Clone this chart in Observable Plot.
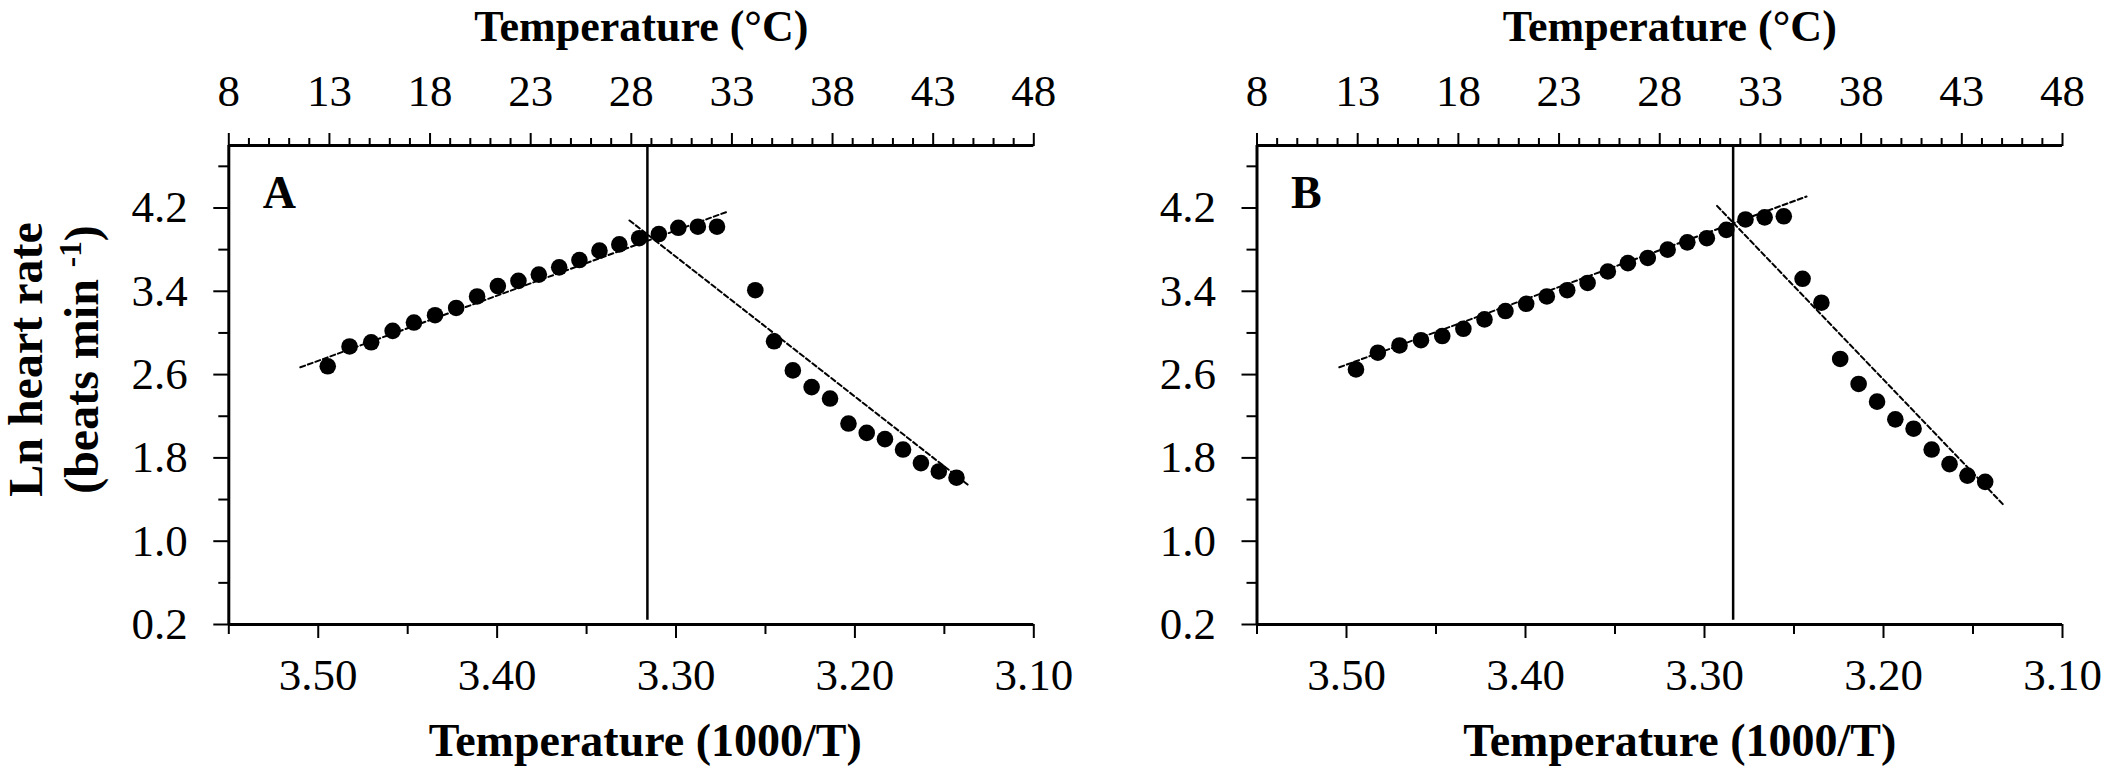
<!DOCTYPE html>
<html><head><meta charset="utf-8">
<script src="https://cdn.jsdelivr.net/npm/d3@7"></script>
<script src="https://cdn.jsdelivr.net/npm/@observablehq/plot@0.6"></script>
<style>
html,body{margin:0;padding:0;background:#fff;}
#wrap{position:relative;width:2106px;height:771px;overflow:hidden;background:#fff;}
#wrap > div{position:absolute;top:0;}
#wrap svg{overflow:visible;max-width:none;}
</style></head>
<body><div id="wrap"><div id="pa"></div><div id="pb"></div></div>
<script>
// ---- axis ticks ----
const celsiusMajor = [8, 13, 18, 23, 28, 33, 38, 43, 48];
const celsiusMinor = [9,10,11,12,14,15,16,17,19,20,21,22,24,25,26,27,29,30,31,32,34,35,36,37,39,40,41,42,44,45,46,47];
const celsiusDomain = [8, 48];
const invTMajor = [3.50, 3.40, 3.30, 3.20, 3.10];
const invTMinor = [3.55, 3.45, 3.35, 3.25, 3.15];
const lnMajor = [0.2, 1.0, 1.8, 2.6, 3.4, 4.2];
const lnMinor = [0.6, 1.4, 2.2, 3.0, 3.8, 4.6];
const xDomain = [3.55, 3.10];
const yDomain = [0.2, 4.8];

// ---- panel A ----
const aInvT = [3.4947,3.4825,3.4704,3.4584,3.4465,3.4347,3.4229,3.4112,3.3996,3.3881,3.3767,3.3653,3.3540,3.3428,3.3317,3.3206,3.3096,3.2987,3.2878,3.2771,
               3.2557,3.2452,3.2347,3.2242,3.2139,3.2036,3.1934,3.1832,3.1731,3.1631,3.1531,3.1432];
const aLnHR = [2.68,2.87,2.91,3.02,3.10,3.17,3.24,3.35,3.45,3.50,3.56,3.63,3.70,3.79,3.85,3.91,3.95,4.01,4.02,4.02,
               3.41,2.92,2.64,2.48,2.37,2.13,2.04,1.98,1.88,1.75,1.67,1.61];
const aFitUpX = [3.510, 3.272], aFitUpY = [2.67, 4.16];
const aFitDownX = [3.326, 3.136], aFitDownY = [4.08, 1.53];
const aBreak = [3.316];

// ---- panel B ----
const bInvT = [3.4947,3.4825,3.4704,3.4584,3.4465,3.4347,3.4229,3.4112,3.3996,3.3881,3.3767,3.3653,3.3540,3.3428,3.3317,3.3206,3.3096,3.2987,3.2878,3.2771,3.2664,
               3.2557,3.2452,3.2347,3.2242,3.2139,3.2036,3.1934,3.1832,3.1731,3.1631,3.1531,3.1432];
const bLnHR = [2.65,2.81,2.88,2.93,2.97,3.04,3.13,3.21,3.28,3.35,3.41,3.48,3.59,3.67,3.72,3.80,3.87,3.91,3.99,4.09,4.11,
               4.12,3.52,3.29,2.75,2.51,2.34,2.17,2.08,1.88,1.74,1.63,1.57];
const bFitUpX = [3.504, 3.243], bFitUpY = [2.67, 4.31];
const bFitDownX = [3.293, 3.133], bFitDownY = [4.22, 1.35];
const bBreak = [3.284];

const FONT = "'Liberation Serif', 'Times New Roman', Times, serif";
const cToX = d3.scaleLinear().domain(celsiusDomain).range(xDomain);

function panel({invT, lnHR, upX, upY, downX, downY, brk, letter, yTitle, marginLeft, marginRight, width, bottomDx, topDx}) {
  const pts = invT.map((x, i) => ({x, y: lnHR[i]}));
  const up = upX.map((x, i) => ({x, y: upY[i]}));
  const down = downX.map((x, i) => ({x, y: downY[i]}));
  const marks = [
    // axis lines
    Plot.ruleY([yDomain[0]], {strokeWidth: 3}),
    Plot.ruleY([yDomain[1]], {strokeWidth: 3}),
    Plot.ruleX([xDomain[0]], {strokeWidth: 3}),
    // left axis
    Plot.axisY(lnMajor, {anchor: "left", tickSize: 15, tickPadding: 26, strokeWidth: 2, tickFormat: d3.format(".1f"), label: null, fontSize: 45}),
    Plot.axisY(lnMinor, {anchor: "left", tickSize: 10, strokeWidth: 2, fill: "none", label: null}),
    // bottom axis
    Plot.axisX(invTMajor, {anchor: "bottom", tickSize: 14, tickPadding: 20, strokeWidth: 2, tickFormat: d3.format(".2f"), label: null, fontSize: 45}),
    Plot.axisX(invTMinor, {anchor: "bottom", tickSize: 10, strokeWidth: 2, fill: "none", label: null}),
    // top (°C) axis
    Plot.axisX(celsiusMajor.map(cToX), {anchor: "top", tickSize: 13, tickPadding: 27, strokeWidth: 2,
      tickFormat: v => String(Math.round(cToX.invert(v))), label: null, fontSize: 45}),
    Plot.axisX(celsiusMinor.map(cToX), {anchor: "top", tickSize: 8, strokeWidth: 2, fill: "none", label: null}),
    // break line
    Plot.ruleX(brk, {y1: 0.24, y2: yDomain[1], strokeWidth: 2.5}),
    // fitted lines
    Plot.line(up, {x: "x", y: "y", stroke: "black", strokeWidth: 2, strokeDasharray: "5,3"}),
    Plot.line(down, {x: "x", y: "y", stroke: "black", strokeWidth: 2, strokeDasharray: "5,3"}),
    // data
    Plot.dot(pts, {x: "x", y: "y", r: 8.3, fill: "black"}),
    // texts
    Plot.text([letter], {frameAnchor: "top-left", textAnchor: "start", lineAnchor: "top", dx: 34, dy: 30.3, fontSize: 46, fontWeight: "bold"}),
    Plot.text(["Temperature (°C)"], {frameAnchor: "top", lineAnchor: "top", dx: topDx, dy: -136.2, fontSize: 44, fontWeight: "bold"}),
    Plot.text(["Temperature (1000/T)"], {frameAnchor: "bottom", lineAnchor: "top", dx: bottomDx, dy: 99, fontSize: 46, fontWeight: "bold"})
  ];
  if (yTitle) {
    marks.push(
      Plot.text(["Ln heart rate"], {frameAnchor: "left", rotate: -90, textAnchor: "middle", lineAnchor: "top", dx: -221, dy: -25.5, fontSize: 48, fontWeight: "bold"}),
      Plot.text(["(beats min -1)"], {frameAnchor: "left", rotate: -90, textAnchor: "middle", lineAnchor: "top", dx: -165, dy: -25.5, fontSize: 48, fontWeight: "bold"})
    );
  }
  const svg = Plot.plot({
    width, height: 771,
    marginTop: 145, marginBottom: 147, marginLeft, marginRight,
    x: {type: "linear", domain: xDomain},
    y: {type: "linear", domain: yDomain},
    style: {fontFamily: FONT, fontSize: "45px", background: "transparent", color: "black", overflow: "visible"},
    marks
  });
  // superscript for the unit
  d3.select(svg).selectAll("text").filter(function() { return this.textContent === "(beats min -1)"; })
    .each(function() {
      const t = d3.select(this);
      t.text("");
      t.append("tspan").text("(beats min ");
      t.append("tspan").attr("baseline-shift", "super").attr("font-size", "65%").text("-1");
      t.append("tspan").text(")");
    });
  return svg;
}

const pa = document.getElementById("pa");
pa.style.left = "0px";
pa.appendChild(panel({invT: aInvT, lnHR: aLnHR, upX: aFitUpX, upY: aFitUpY, downX: aFitDownX, downY: aFitDownY, brk: aBreak,
  letter: "A", yTitle: true, marginLeft: 228.3, marginRight: 6.7, width: 1040, bottomDx: 14, topDx: 10}));
const pb = document.getElementById("pb");
pb.style.left = "1028px";
pb.appendChild(panel({invT: bInvT, lnHR: bLnHR, upX: bFitUpX, upY: bFitUpY, downX: bFitDownX, downY: bFitDownY, brk: bBreak,
  letter: "B", yTitle: false, marginLeft: 228.5, marginRight: 44, width: 1078, bottomDx: 20, topDx: 10}));
</script>
</body></html>
